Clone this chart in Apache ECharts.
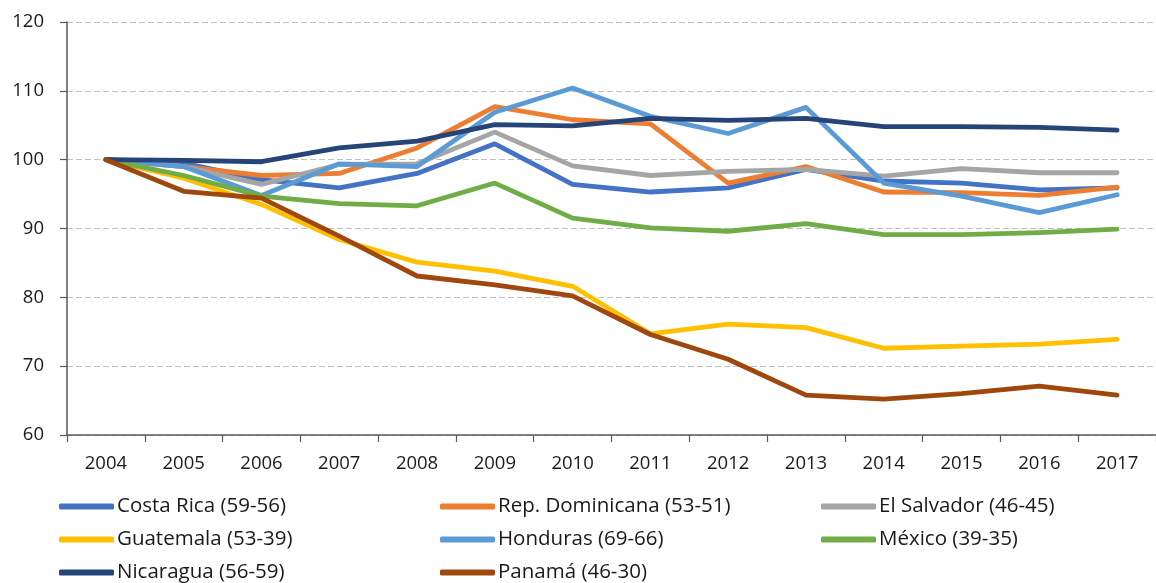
<!DOCTYPE html>
<html lang="es">
  <head>
    <meta charset="UTF-8" />
    <title>Índice 2004 = 100</title>
    <script src="https://cdn.jsdelivr.net/npm/echarts@6/dist/echarts.min.js"></script>
    <style>
      * {
        margin: 0;
        padding: 0;
      }
      body {
        background: #fff;
      }
    </style>
  </head>
  <body>
    <div id="main" style="width: 1156px; height: 583px"></div>
    <script>
      var years = ['2004', '2005', '2006', '2007', '2008', '2009', '2010', '2011', '2012', '2013', '2014', '2015', '2016', '2017'];

      var costaRica = [100, 99.5, 97.1, 95.9, 98.0, 102.3, 96.4, 95.3, 95.9, 98.6, 96.9, 96.6, 95.6, 95.9];
      var repDominicana = [100, 99.0, 97.7, 98.0, 101.7, 107.7, 105.8, 105.2, 96.6, 99.0, 95.3, 95.2, 94.8, 96.0];
      var elSalvador = [100, 99.0, 96.4, 99.3, 99.4, 104.0, 99.1, 97.7, 98.3, 98.6, 97.6, 98.7, 98.1, 98.1];
      var guatemala = [100, 97.3, 93.5, 88.4, 85.1, 83.8, 81.6, 74.7, 76.1, 75.6, 72.6, 72.9, 73.2, 73.9];
      var honduras = [100, 99.0, 94.8, 99.4, 99.0, 106.9, 110.4, 106.3, 103.8, 107.6, 96.6, 94.7, 92.3, 94.9];
      var mexico = [100, 97.7, 94.7, 93.6, 93.3, 96.6, 91.5, 90.1, 89.6, 90.7, 89.1, 89.1, 89.4, 89.9];
      var nicaragua = [100, 99.9, 99.7, 101.7, 102.7, 105.1, 104.9, 106.0, 105.7, 106.0, 104.8, 104.8, 104.7, 104.3];
      var panama = [100, 95.4, 94.4, 88.9, 83.1, 81.8, 80.2, 74.6, 71.0, 65.8, 65.2, 66.0, 67.1, 65.8];

      var names = [
        'Costa Rica (59-56)',
        'Rep. Dominicana (53-51)',
        'El Salvador (46-45)',
        'Guatemala (53-39)',
        'Honduras (69-66)',
        'México (39-35)',
        'Nicaragua (56-59)',
        'Panamá (46-30)'
      ];
      var values = [costaRica, repDominicana, elSalvador, guatemala, honduras, mexico, nicaragua, panama];
      var colors = ['#4472C4', '#ED7D31', '#A5A5A5', '#FFC000', '#5B9BD5', '#70AD47', '#264478', '#9E480E'];

      var fontFamily = '"Open Sans", "Noto Sans", sans-serif';

      var series = names.map(function (name, i) {
        return {
          name: name,
          type: 'line',
          data: values[i],
          showSymbol: false,
          symbol: 'none',
          lineStyle: { width: 4.8, color: colors[i], cap: 'round', join: 'round' },
          itemStyle: { color: colors[i] }
        };
      });

      // una leyenda por columna para que las columnas queden alineadas
      function legendCol(left, items) {
        return {
          orient: 'vertical',
          left: left,
          top: 496,
          padding: 0,
          itemGap: 12,
          itemWidth: 55,
          itemHeight: 6,
          icon: 'roundRect',
          data: items,
          textStyle: { fontFamily: fontFamily, fontSize: 20.5, color: '#1a1a1a', padding: [0, 0, 0, -2] }
        };
      }

      var myChart = echarts.init(document.getElementById('main'));
      myChart.setOption({
        animation: false,
        color: colors,
        grid: { left: 67, right: -10, top: 22, bottom: 148 },
        legend: [
          legendCol(59, [names[0], names[3], names[6]]),
          legendCol(440, [names[1], names[4], names[7]]),
          legendCol(821, [names[2], names[5]])
        ],
        xAxis: {
          type: 'category',
          data: years,
          boundaryGap: true,
          axisLine: { lineStyle: { color: '#595959', width: 1.5 } },
          axisTick: { show: true, length: 7, inside: false, lineStyle: { color: '#595959', width: 1.2 } },
          axisLabel: { color: '#1a1a1a', fontSize: 18.5, fontFamily: fontFamily, margin: 19 }
        },
        yAxis: {
          type: 'value',
          min: 60,
          max: 120,
          interval: 10,
          axisLine: { show: true, lineStyle: { color: '#595959', width: 1.5 } },
          axisTick: { show: true, length: 7, lineStyle: { color: '#595959', width: 1.2 } },
          axisLabel: { color: '#1a1a1a', fontSize: 18.5, fontFamily: fontFamily, margin: 23 },
          splitLine: { lineStyle: { color: '#bfbfbf', type: [6, 3], width: 1.2 } }
        },
        series: series
      });
    </script>
  </body>
</html>
